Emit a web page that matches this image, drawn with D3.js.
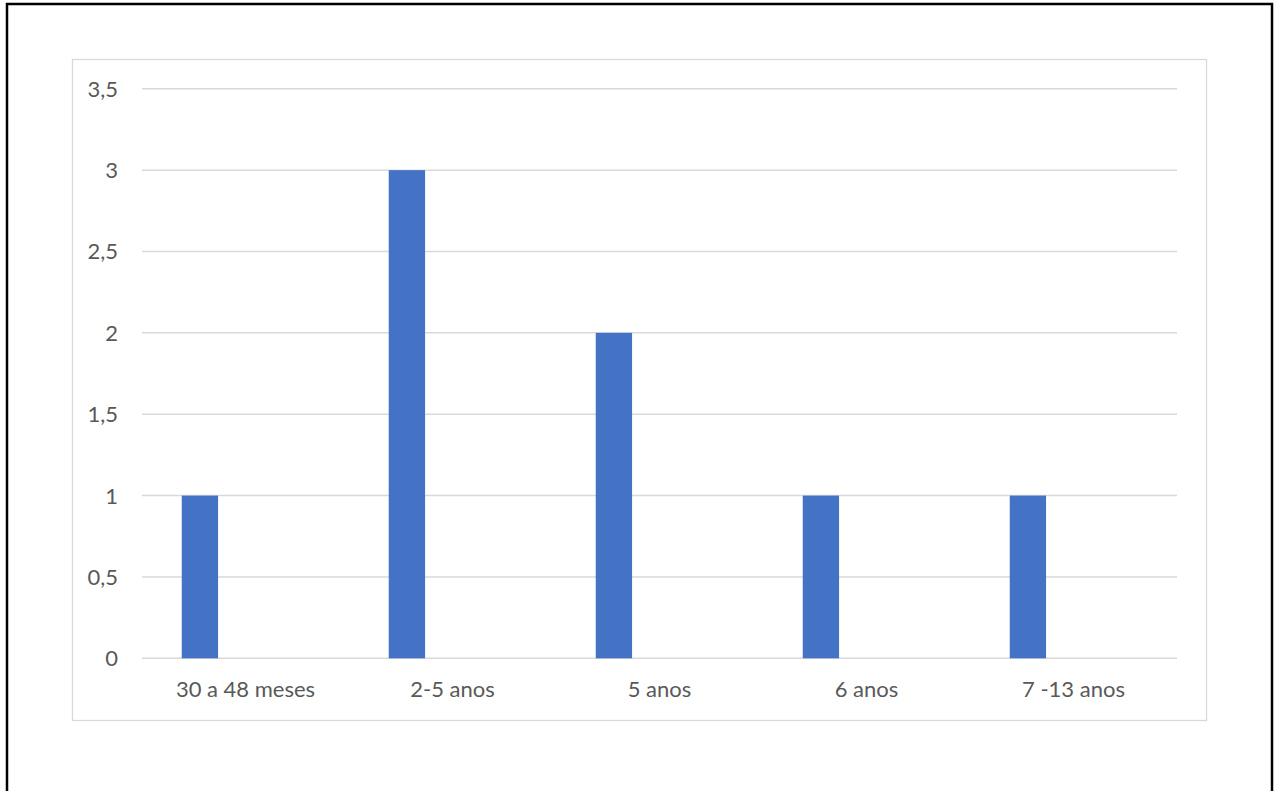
<!DOCTYPE html>
<html>
<head>
<meta charset="utf-8">
<script src="https://cdn.jsdelivr.net/npm/d3@7"></script>
<style>
  html, body { margin: 0; padding: 0; background: #fff; }
  svg { display: block; }
  text { font-family: Lato, "Open Sans", sans-serif; fill: #595959; }
</style>
</head>
<body>
<svg id="chart" width="1276" height="791"></svg>
<script>
// Categories (age groups) and counts
const categories = ["30 a 48 meses", "2-5 anos", "5 anos", "6 anos", "7 -13 anos"];
const counts = [1, 3, 2, 1, 1];
const yTicks = [0, 0.5, 1, 1.5, 2, 2.5, 3, 3.5];

const svg = d3.select("#chart");

// Outer frame
svg.append("rect")
  .attr("x", 7).attr("y", 4)
  .attr("width", 1265).attr("height", 800)
  .attr("fill", "none").attr("stroke", "#000").attr("stroke-width", 2.5);

// Chart area frame
svg.append("rect")
  .attr("x", 72.5).attr("y", 59.5)
  .attr("width", 1134).attr("height", 661)
  .attr("fill", "#fff").attr("stroke", "#d9d9d9").attr("stroke-width", 1.3);

const plot = { left: 142, right: 1177, top: 88.8, bottom: 658.3 };

const x = d3.scaleBand()
  .domain(categories)
  .range([plot.left, plot.right])
  .padding(0);

const y = d3.scaleLinear()
  .domain([0, 3.5])
  .range([plot.bottom, plot.top]);

// Horizontal gridlines
svg.append("g")
  .selectAll("line")
  .data(yTicks)
  .join("line")
  .attr("x1", plot.left).attr("x2", plot.right)
  .attr("y1", d => y(d)).attr("y2", d => y(d))
  .attr("stroke", "#d9d9d9").attr("stroke-width", 1.5);

// Y axis labels
const fmt = d => String(d).replace(".", ",");
svg.append("g")
  .selectAll("text")
  .data(yTicks)
  .join("text")
  .attr("x", 118)
  .attr("y", d => y(d))
  .attr("dy", "0.36em")
  .attr("text-anchor", "end")
  .attr("font-size", 22)
  .text(fmt);

// Bars sit in the left part of each category slot
const barOffset = 0.192, barWidth = 0.1755;
svg.append("g")
  .selectAll("rect")
  .data(categories.map((c, i) => ({ c, v: counts[i] })))
  .join("rect")
  .attr("x", d => x(d.c) + x.bandwidth() * barOffset)
  .attr("width", x.bandwidth() * barWidth)
  .attr("y", d => y(d.v))
  .attr("height", d => y(0) - y(d.v))
  .attr("fill", "#4472c4");

// Category labels
svg.append("g")
  .selectAll("text")
  .data(categories)
  .join("text")
  .attr("x", d => x(d) + x.bandwidth() / 2)
  .attr("y", 697)
  .attr("text-anchor", "middle")
  .attr("font-size", 22)
  .text(d => d);
</script>
</body>
</html>
